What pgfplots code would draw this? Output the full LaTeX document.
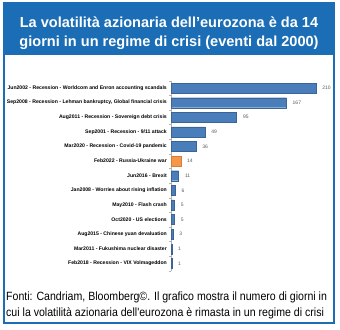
\documentclass[border=0pt]{standalone}
\usepackage{fontspec}
\setmainfont{Liberation Sans}
\newfontfamily\capfont{Liberation Sans}[FakeStretch=0.885]
\usepackage{pgfplots}
\pgfplotsset{compat=1.18}
\definecolor{frameblue}{HTML}{1B6EB5}
\definecolor{barblue}{HTML}{4A7EBB}
\definecolor{barorange}{HTML}{F79646}
\definecolor{valgray}{HTML}{595959}
\begin{document}
\begin{tikzpicture}[x=1bp,y=1bp]
\path (0,0) rectangle (340,330);
\fill[frameblue] (4,275) rectangle (334,327);
\draw[frameblue, line width=2bp] (4,7) rectangle (334,327);
\node[anchor=base, text=white, font=\fontsize{14.6}{18}\selectfont\bfseries, inner sep=0] at (169,303) {La volatilità azionaria dell'eurozona è da 14};
\node[anchor=base, text=white, font=\fontsize{14.6}{18}\selectfont\bfseries, inner sep=0] at (169,284) {giorni in un regime di crisi (eventi dal 2000)};
\node[anchor=base west, font=\capfont\fontsize{12}{14}\selectfont, inner sep=0] at (6,30) {Fonti: Candriam, Bloomberg©. Il grafico mostra il numero di giorni in};
\node[anchor=base west, font=\capfont\fontsize{12}{14}\selectfont, inner sep=0] at (6,14) {cui la volatilità azionaria dell'eurozona è rimasta in un regime di crisi};
\begin{axis}[
  at={(171bp,249.3bp)}, anchor=north west,
  scale only axis, width=145bp, height=190bp,
  xmin=0, xmax=210, ymin=-0.5, ymax=12.5, y dir=reverse,
  axis x line=none, axis y line*=left,
  axis line style={draw=gray!60, line width=0.6pt},
  xbar, bar width=10bp, bar shift=0pt,
  ytick={0,...,12}, major tick length=0pt,
  minor ytick={-0.5,0.5,...,12.5}, minor tick length=2bp,
  tick align=outside, minor tick style={draw=gray!60},
  yticklabels={
    Jun2002 - Recession - Worldcom and Enron accounting scandals,
    Sep2008 - Recession - Lehman bankruptcy{,} Global financial crisis,
    Aug2011 - Recession - Sovereign debt crisis,
    Sep2001 - Recession - 9/11 attack,
    Mar2020 - Recession - Covid-19 pandemic,
    Feb2022 - Russia-Ukraine war,
    Jun2016 - Brexit,
    Jan2008 - Worries about rising inflation,
    May2010 - Flash crash,
    Oct2020 - US elections,
    Aug2015 - Chinese yuan devaluation,
    Mar2011 - Fukushima nuclear disaster,
    Feb2018 - Recession - VIX Volmageddon},
  yticklabel style={font=\fontsize{5.15}{6}\selectfont\bfseries, inner sep=0pt, xshift=-4bp},
  nodes near coords,
  nodes near coords style={font=\fontsize{5}{6}\selectfont, text=valgray, anchor=west, xshift=3bp, /pgf/number format/assume math mode=true},
  clip=false,
]
\addplot[fill=barblue, draw=barblue!80!black, line width=0.2pt] coordinates {
(210,0) (167,1) (95,2) (49,3) (36,4) (11,6) (6,7) (5,8) (5,9) (3,10) (1,11) (1,12)};
\addplot[fill=barorange, draw=barorange!85!black, line width=0.2pt] coordinates {(14,5)};
\end{axis}
\end{tikzpicture}
\end{document}
